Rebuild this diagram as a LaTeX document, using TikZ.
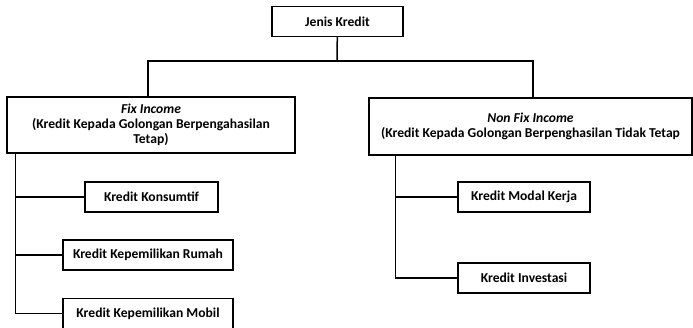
\documentclass[tikz,border=0pt]{standalone}
\usepackage{fontspec}
\setmainfont{Carlito}
\usetikzlibrary{calc}

\tikzset{
  kbox/.style={draw, line width=1.5pt, fill=white, align=center, inner sep=0pt,
    font=\fontsize{13.6}{15}\selectfont\bfseries},
  klink/.style={line width=1.5pt}
}

\begin{document}
\begin{tikzpicture}[x=1pt, y=-1pt]
        \useasboundingbox (0,0) rectangle (693,328);
        \pgfmathsetmacro{\hh}{30}
        % top
        \node[kbox, minimum width=131, minimum height=\hh] (jenis) at (337.5,21.5) {Jenis Kredit};
        \coordinate (bus) at (337,61);
        % second level
        \node[kbox, minimum width=288, minimum height=56] (fix) at (151,125)
          {\textit{Fix Income}\\(Kredit Kepada Golongan Berpengahasilan\\Tetap)};
        \node[kbox, minimum width=323, minimum height=57] (nonfix) at (530.5,126.5)
          {\textit{Non Fix Income}\\(Kredit Kepada Golongan Berpenghasilan Tidak Tetap};
        % leaves
        \node[kbox, minimum width=133, minimum height=\hh] (konsumtif) at (151.5,197) {Kredit Konsumtif};
        \node[kbox, minimum width=170, minimum height=\hh] (rumah) at (148,255) {Kredit Kepemilikan Rumah};
        \node[kbox, minimum width=170, minimum height=\hh] (mobil) at (148,313.5) {Kredit Kepemilikan Mobil};
        \node[kbox, minimum width=132, minimum height=\hh] (modal) at (524,197) {Kredit Modal Kerja};
        \node[kbox, minimum width=132, minimum height=\hh] (investasi) at (524,278) {Kredit Investasi};
        \coordinate (fixtop) at ($ (fix.north) + (-3,0) $);
        \coordinate (nonfixtop) at ($ (nonfix.north) + (2.5,0) $);
        \coordinate (fixfoot) at ($ (fix.south west) + (9,0) $);
        \coordinate (nonfixfoot) at ($ (nonfix.south west) + (27,0) $);
        % connectors
        \draw[klink] (jenis) -- (bus);
        \draw[klink] (fixtop) |- (bus) -| (nonfixtop);
        \draw[klink] (fixfoot) |- (mobil.west);
        \draw[klink] (fixfoot |- konsumtif) -- (konsumtif.west);
        \draw[klink] (fixfoot |- rumah) -- (rumah.west);
        \draw[klink] (nonfixfoot) |- (investasi.west);
        \draw[klink] (nonfixfoot |- modal) -- (modal.west);
\end{tikzpicture}
\end{document}
